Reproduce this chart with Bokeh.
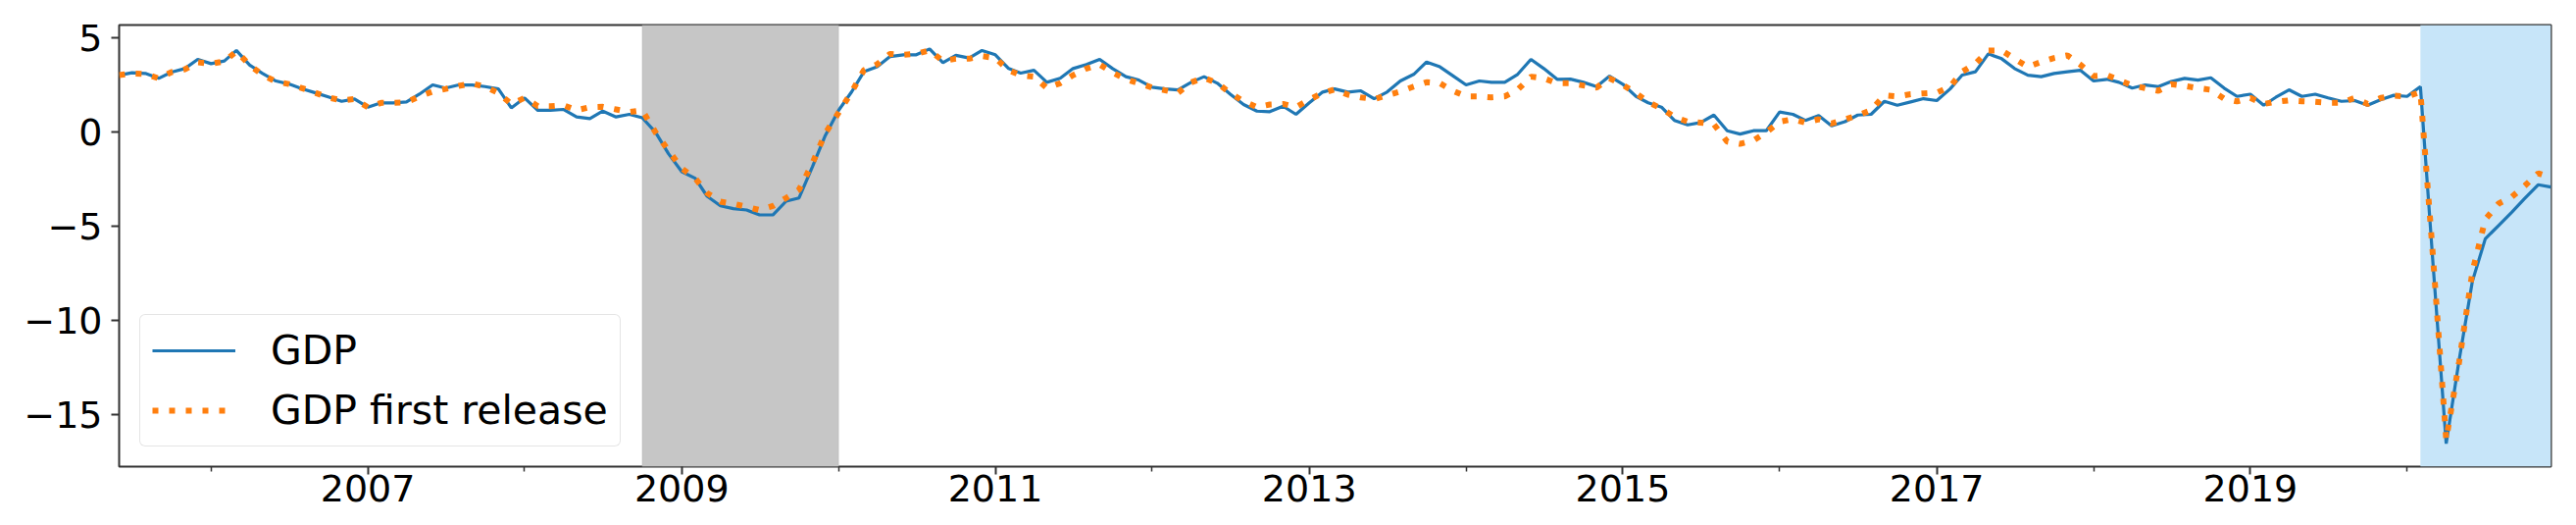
import pandas as pd
from bokeh.plotting import figure
from bokeh.models import Range1d, FixedTicker, DatetimeTickFormatter, BoxAnnotation
from bokeh.embed import file_html
from bokeh.resources import INLINE

# ---------------- data ----------------
start_month = "2005-06-01"   # monthly observations from June 2005

gdp = [
    3.04, 3.17, 3.13, 2.87, 3.20, 3.39, 3.88, 3.65, 3.79, 4.35,   # 2005-06 .. 2006-03
    3.57, 3.13, 2.73, 2.57, 2.31, 2.10, 1.88, 1.65, 1.77, 1.34,   # .. 2007-01
    1.57, 1.57, 1.62, 2.03, 2.52, 2.35, 2.52, 2.52, 2.43, 2.31,   # .. 2007-11
    1.30, 1.83, 1.17, 1.17, 1.22, 0.82, 0.73, 1.13, 0.82, 0.96,   # .. 2008-09
    0.78, 0.00, -1.13, -2.09, -2.43, -3.39, -3.90, -4.05, -4.12, -4.38,  # .. 2009-07
    -4.38, -3.65, -3.48, -1.83, -0.17, 1.17, 2.17, 3.22, 3.48, 4.03,     # .. 2010-05
    4.12, 4.12, 4.43, 3.70, 4.09, 3.95, 4.35, 4.12, 3.39, 3.15,   # .. 2011-03
    3.30, 2.66, 2.87, 3.39, 3.60, 3.88, 3.39, 2.96, 2.78, 2.40,   # .. 2012-01
    2.31, 2.26, 2.66, 2.96, 2.61, 2.03, 1.48, 1.13, 1.10, 1.39,   # .. 2012-11
    0.96, 1.57, 2.14, 2.31, 2.14, 2.21, 1.79, 2.14, 2.73, 3.08,   # .. 2013-09
    3.74, 3.48, 3.01, 2.52, 2.73, 2.66, 2.66, 3.08, 3.88, 3.39,   # .. 2014-07
    2.82, 2.83, 2.66, 2.43, 2.99, 2.56, 1.90, 1.57, 1.34, 0.64,   # .. 2015-05
    0.40, 0.52, 0.92, 0.09, -0.09, 0.09, 0.09, 1.08, 0.96, 0.64,  # .. 2016-03
    0.90, 0.35, 0.57, 0.92, 0.96, 1.65, 1.44, 1.62, 1.79, 1.69,   # .. 2017-01
    2.31, 3.04, 3.22, 4.17, 3.91, 3.39, 3.04, 2.96, 3.13, 3.22,   # .. 2017-11
    3.30, 2.73, 2.82, 2.66, 2.35, 2.52, 2.43, 2.70, 2.87, 2.78,   # .. 2018-09
    2.90, 2.35, 1.91, 2.03, 1.44, 1.86, 2.26, 1.91, 2.03, 1.83,   # .. 2019-07
    1.65, 1.69, 1.44, 1.74, 1.97, 1.91, 2.43, -6.87, -16.52, -12.10,  # .. 2020-05
    -7.90, -5.65, -4.94, -4.23, -3.50, -2.78, -2.90,              # .. 2020-12
]

gdp_first_release = [
    3.04, 3.13, 3.10, 2.87, 3.20, 3.35, 3.72, 3.65, 3.77, 4.30,
    3.57, 3.05, 2.70, 2.57, 2.35, 2.10, 1.85, 1.70, 1.77, 1.34,
    1.57, 1.57, 1.60, 1.91, 2.17, 2.31, 2.47, 2.59, 2.43, 2.09,
    1.51, 1.83, 1.39, 1.39, 1.44, 1.18, 1.34, 1.36, 1.22, 1.08,
    1.17, 0.00, -0.96, -1.91, -2.43, -3.22, -3.68, -3.79, -3.95, -4.12,
    -3.91, -3.48, -3.04, -1.65, -0.05, 1.04, 2.17, 3.30, 3.62, 4.17,
    4.12, 4.17, 4.35, 3.79, 3.91, 3.91, 4.05, 3.95, 3.30, 3.03,
    2.96, 2.35, 2.61, 3.04, 3.39, 3.60, 3.18, 2.82, 2.61, 2.38,
    2.23, 2.09, 2.66, 2.90, 2.61, 2.09, 1.65, 1.34, 1.48, 1.51,
    1.34, 1.74, 2.09, 2.28, 2.00, 1.86, 1.77, 1.97, 2.17, 2.43,
    2.66, 2.61, 2.21, 1.91, 1.91, 1.86, 1.91, 2.26, 2.96, 2.87,
    2.61, 2.61, 2.49, 2.38, 2.87, 2.52, 2.08, 1.60, 1.27, 0.82,
    0.57, 0.52, 0.43, -0.49, -0.61, -0.43, 0.00, 0.57, 0.70, 0.52,
    0.70, 0.47, 0.70, 0.90, 1.18, 1.97, 1.91, 2.03, 2.07, 2.11,
    2.43, 3.22, 3.65, 4.35, 4.35, 3.91, 3.48, 3.74, 3.95, 4.09,
    3.60, 2.99, 3.04, 2.78, 2.49, 2.35, 2.21, 2.56, 2.47, 2.35,
    2.26, 1.79, 1.64, 1.83, 1.51, 1.62, 1.70, 1.65, 1.62, 1.57,
    1.57, 1.83, 1.51, 1.83, 1.95, 1.91, 2.14, -6.52, -16.30, -12.20,
    -7.40, -4.62, -3.78, -3.42, -2.83, -2.17, -2.40,
]

recession_span = ("2008-10-01", "2010-01-01")
covid_span = ("2020-02-01", "2020-12-01")

y_ticks = [-15, -10, -5, 0, 5]
y_tick_labels = ["\u221215", "\u221210", "\u22125", "0", "5"]
x_major_years = [2007, 2009, 2011, 2013, 2015, 2017, 2019]
x_minor_years = [2006, 2008, 2010, 2012, 2014, 2016, 2018, 2020]
y_limits = (-17.74, 5.70)

# ---------------- plot ----------------
dates = pd.date_range(start_month, periods=len(gdp), freq="MS")


def ms(d):
    return pd.Timestamp(d).value / 1e6


FONT = "DejaVu Sans"
AX = "#333333"

p = figure(
    x_axis_type="datetime",
    width=2619, height=527,
    min_border_left=121, min_border_right=18, min_border_top=25, min_border_bottom=52,
    output_backend="svg", toolbar_location=None,
    x_range=Range1d(ms(dates[0]), ms(dates[-1])),
    y_range=Range1d(*y_limits),
)
p.background_fill_color = "white"
p.border_fill_color = "white"
p.outline_line_color = AX
p.outline_line_width = 2
p.xgrid.visible = False
p.ygrid.visible = False

# shaded spans
p.add_layout(BoxAnnotation(left=ms(recession_span[0]), right=ms(recession_span[1]),
                           fill_color="#c6c6c6", fill_alpha=1.0,
                           line_color="#b2b2b2", line_width=1.5, level="underlay"))
p.add_layout(BoxAnnotation(left=ms(covid_span[0]), right=ms(covid_span[1]),
                           fill_color="#c7e5f9", fill_alpha=1.0,
                           line_color=None, level="underlay"))

p.line(dates, gdp, line_color="#1f77b4", line_width=3.2, legend_label="GDP")
p.line(dates, gdp_first_release, line_color="#ff7f0e", line_width=6,
       line_dash="6 11", legend_label="GDP first release")

# axes
xa = p.xaxis[0]
xa.ticker = FixedTicker(ticks=[ms(f"{y}-01-01") for y in x_major_years],
                        minor_ticks=[ms(f"{y}-01-01") for y in x_minor_years])
fmt = "%Y"
xa.formatter = DatetimeTickFormatter(microseconds=fmt, milliseconds=fmt, seconds=fmt,
                                     minsec=fmt, minutes=fmt, hourmin=fmt, hours=fmt,
                                     days=fmt, months=fmt, years=fmt)
ya = p.yaxis[0]
ya.ticker = FixedTicker(ticks=y_ticks)
ya.major_label_overrides = {t: s for t, s in zip(y_ticks, y_tick_labels)}

for ax in (xa, ya):
    ax.axis_line_color = None
    ax.major_tick_line_color = AX
    ax.major_tick_line_width = 2
    ax.major_tick_out = 8
    ax.major_tick_in = 0
    ax.minor_tick_line_color = AX
    ax.minor_tick_line_width = 1.5
    ax.minor_tick_out = 5
    ax.minor_tick_in = 0
    ax.major_label_text_font = FONT
    ax.major_label_text_font_size = "38px"
    ax.major_label_text_color = "black"
xa.major_label_standoff = 0
ya.major_label_standoff = 9
ya.minor_tick_line_color = None

# legend
lg = p.legend[0]
lg.location = (21, 20)
lg.label_text_font = FONT
lg.label_text_font_size = "41px"
lg.label_text_color = "black"
lg.glyph_width = 85
lg.glyph_height = 48
lg.label_height = 48
lg.label_standoff = 36
lg.spacing = 13
lg.padding = 12
lg.margin = 0
lg.border_line_color = "#cccccc"
lg.border_line_width = 1.5
lg.background_fill_color = "white"
lg.background_fill_alpha = 0.8
if "border_radius" in lg.properties():
    lg.border_radius = 6

open("out.html", "w").write(file_html(p, INLINE))
